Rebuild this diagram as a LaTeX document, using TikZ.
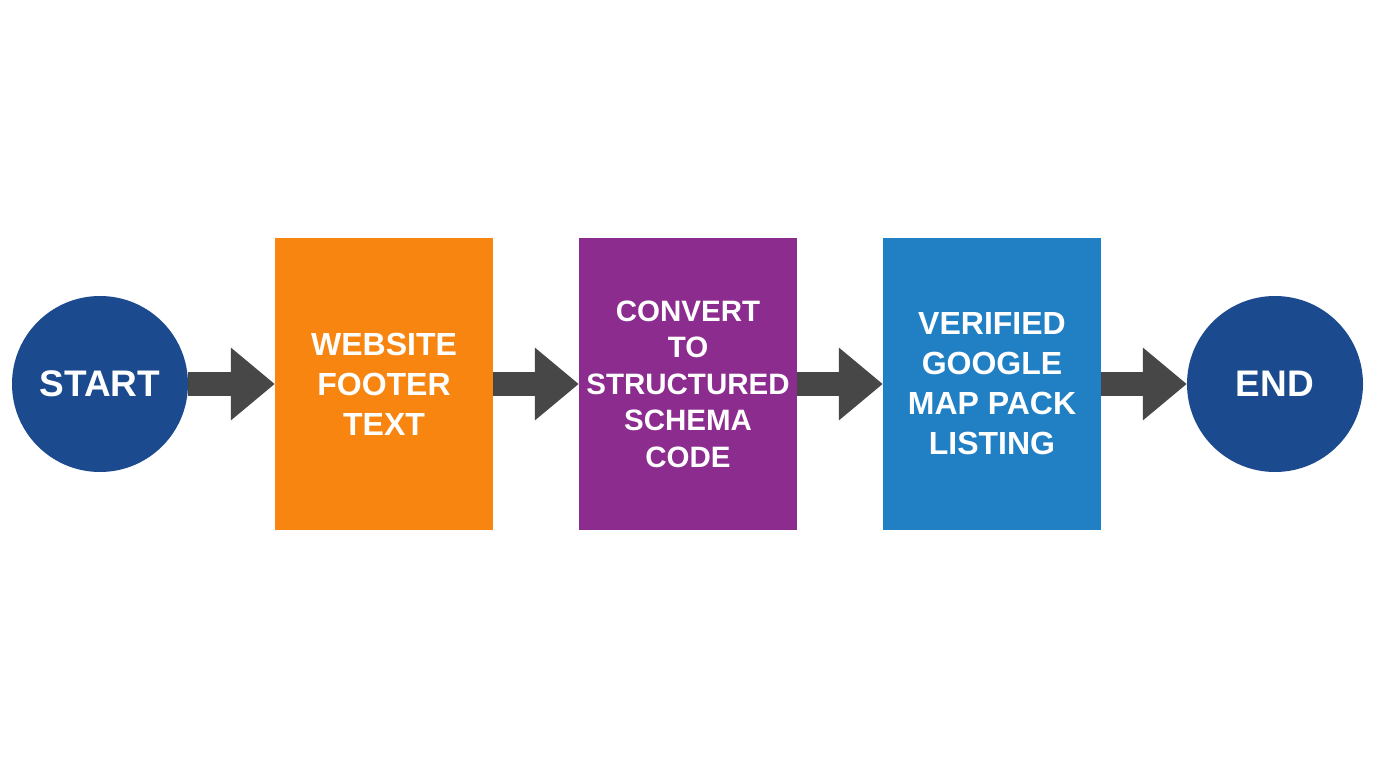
\documentclass[tikz,border=0pt]{standalone}
\usepackage{fontspec}
\setmainfont{Liberation Sans}
\usetikzlibrary{arrows.meta}
\definecolor{navy}{HTML}{1B4A8F}
\definecolor{orng}{HTML}{F8850F}
\definecolor{purp}{HTML}{8B2C8E}
\definecolor{blu}{HTML}{2180C4}
\definecolor{arr}{HTML}{474747}
\tikzset{
  endcircle/.style={circle, fill=navy, minimum size=176pt, inner sep=0pt, text=white, font=\bfseries\fontsize{37}{44}\selectfont},
  stepbox/.style={rectangle, minimum width=218pt, minimum height=292pt, inner sep=0pt, text=white, align=center},
  bigtxt/.style={font=\bfseries\fontsize{32}{40}\selectfont},
  smalltxt/.style={font=\bfseries\fontsize{29.5}{36.5}\selectfont},
  flowarrow/.style={draw=arr, line width=24pt, -{Triangle[length=44pt,width=70pt]}}
}
\begin{document}
\begin{tikzpicture}[x=1pt,y=-1pt]
\useasboundingbox[fill=white] (0,0) rectangle (1376,768);
\node[endcircle] (s) at (100,384) {START};
\node[stepbox, bigtxt, fill=orng] (b1) at (384,384) {WEBSITE\\FOOTER\\TEXT};
\node[stepbox, smalltxt, fill=purp] (b2) at (688,384) {CONVERT\\TO\\STRUCTURED\\SCHEMA\\CODE};
\node[stepbox, bigtxt, fill=blu] (b3) at (992,384) {VERIFIED\\GOOGLE\\MAP PACK\\LISTING};
\node[endcircle] (e) at (1275,384) {END};
\draw[flowarrow] (s.east) -- (b1.west);
\draw[flowarrow] (b1.east) -- (b2.west);
\draw[flowarrow] (b2.east) -- (b3.west);
\draw[flowarrow] (b3.east) -- (e.west);
\end{tikzpicture}
\end{document}
